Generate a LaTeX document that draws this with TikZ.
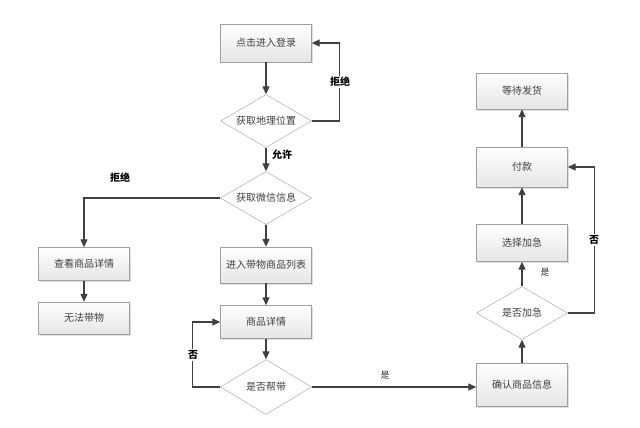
\documentclass[tikz,border=0pt]{standalone}
\usepackage{fontspec}
\newfontfamily\cjk{Noto Sans CJK SC}
\usetikzlibrary{shapes.geometric,arrows.meta,shadows}

\begin{document}
\begin{tikzpicture}[x=1pt,y=-1pt,
  box/.style={draw=gray!75,top color=white,bottom color=gray!20,minimum width=91pt,minimum height=36pt,inner sep=0pt,
    font=\cjk\fontsize{10}{12}\selectfont,text=black!75,
    drop shadow={shadow xshift=1.5pt,shadow yshift=-1.5pt,opacity=0.25,fill=gray}},
  dec/.style={diamond,aspect=1.7,draw=gray!75,fill=white,minimum width=91pt,minimum height=53pt,inner sep=0pt,
    font=\cjk\fontsize{10}{12}\selectfont,text=black!75},
  arr/.style={draw=black!75,line width=1.3pt,-{Triangle[length=8pt,width=7pt]}},
  lab/.style={font=\cjk\bfseries\fontsize{10}{12}\selectfont,text=black,inner sep=1pt},
  labn/.style={font=\cjk\fontsize{9}{11}\selectfont,text=black!80,inner sep=1pt}]
\useasboundingbox (0,0) rectangle (640,428);
% middle column
\node[box,minimum height=38pt] (login) at (266,43) {点击进入登录};
\node[dec] (geo) at (266,121) {获取地理位置};
\node[dec] (wechat) at (266,198) {获取微信信息};
\node[box] (list) at (266,265) {进入带物商品列表};
\node[box,minimum height=33pt] (detail) at (266,322) {商品详情};
\node[dec,minimum height=55pt] (help) at (266,387) {是否帮带};
% left column
\node[box,minimum height=33pt] (view) at (84,264) {查看商品详情};
\node[box,minimum height=32pt] (nocarry) at (84,318) {无法带物};
% right column
\node[box,minimum height=43pt] (confirm) at (522,385) {确认商品信息};
\node[dec] (urgent) at (522,313) {是否加急};
\node[box,minimum height=37pt] (select) at (522,243) {选择加急};
\node[box,minimum height=40pt] (pay) at (522,167) {付款};
\node[box] (wait) at (522,91) {等待发货};
% connectors
\draw[arr] (login) -- (geo);
\draw[arr] (geo.east) -- ++(28,0) |- (login);
\draw[arr] (geo) -- (wechat);
\draw[arr] (wechat.west) -| (view);
\draw[arr] (view) -- (nocarry);
\draw[arr] (wechat) -- (list);
\draw[arr] (list) -- (detail);
\draw[arr] (detail) -- (help);
\draw[arr] (help.west) -- ++(-28,0) |- (detail);
\draw[arr] (help.east) -- (confirm.west |- help.east);
\draw[arr] (confirm) -- (urgent);
\draw[arr] (urgent) -- (select);
\draw[arr] (select) -- (pay);
\draw[arr] (pay) -- (wait);
\draw[arr] (urgent.east) -- ++(27,0) |- (pay);
% labels
\node[lab,fill=white] (l1) at (340,82) {拒绝};
\node[lab] (l2) at (282,155) {允许};
\node[lab] (l3) at (120,178) {拒绝};
\node[lab,fill=white] (l4) at (193,355) {否};
\node[labn] (l5) at (385,375) {是};
\node[labn] (l6) at (545,272) {是};
\node[lab,fill=white] (l7) at (594,240) {否};
\end{tikzpicture}
\end{document}
